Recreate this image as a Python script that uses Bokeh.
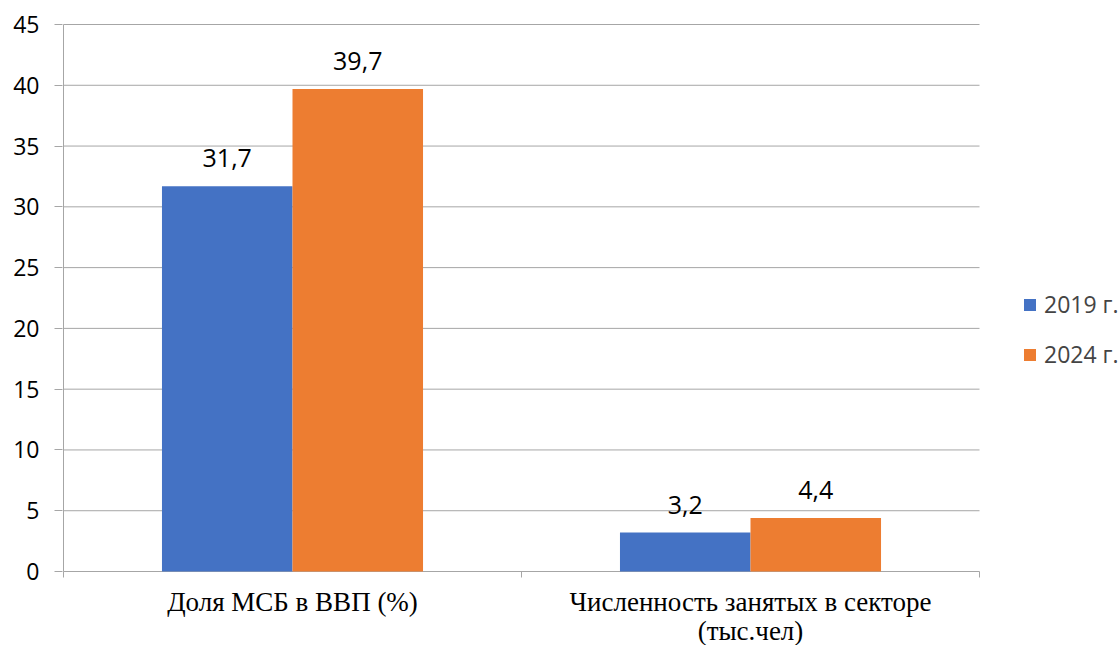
from bokeh.plotting import figure
from bokeh.models import (ColumnDataSource, Range1d, FixedTicker,
                          Legend, LegendItem, LabelSet)
from bokeh.core.properties import value
from bokeh.embed import file_html
from bokeh.resources import INLINE

categories = ["Доля МСБ в ВВП (%)", "Численность занятых в секторе\n(тыс.чел)"]
series_names = ["2019 г.", "2024 г."]
values_2019 = [31.7, 3.2]
values_2024 = [39.7, 4.4]
labels_2019 = ["31,7", "3,2"]
labels_2024 = ["39,7", "4,4"]
y_ticks = [0, 5, 10, 15, 20, 25, 30, 35, 40, 45]

BLUE = "#4472C4"
ORANGE = "#ED7D31"
GRID = "#A6A6A6"
TICK_FONT = "Open Sans"
CAT_FONT = "Liberation Serif"

W, H = 1120, 645
# layout of the value area (pixels)
AX_LEFT, AX_TOP, AX_RIGHT, AX_BOTTOM = 63, 24, 979, 571
y_min, y_max = y_ticks[0], y_ticks[-1]
n = len(categories)
px_y = (AX_BOTTOM - AX_TOP) / (y_max - y_min)
px_x = (AX_RIGHT - AX_LEFT) / n
# frame is one pixel larger than the value area, and extends right/down
x_start = -1 / px_x
x_end = (W - AX_LEFT) / px_x
y_end = y_max + 1 / px_y
y_start = y_min - (H - AX_BOTTOM) / px_y
tick_len = 6 / px_y

centers = [i + 0.5 for i in range(n)]
bounds = [float(i) for i in range(n + 1)]
bw = 0.285
x19 = [c - bw / 2 for c in centers]
x24 = [c + bw / 2 for c in centers]

src19 = ColumnDataSource(dict(x=x19, top=values_2019, lab=labels_2019))
src24 = ColumnDataSource(dict(x=x24, top=values_2024, lab=labels_2024))

p = figure(width=W, height=H, output_backend="svg", toolbar_location=None,
           x_range=Range1d(x_start, x_end), y_range=Range1d(y_start, y_end),
           min_border_left=AX_LEFT - 1, min_border_right=0, min_border_top=AX_TOP - 1,
           min_border_bottom=0, x_axis_type=None)
p.outline_line_color = None
p.background_fill_color = "white"
p.border_fill_color = "white"
p.xgrid.grid_line_color = None
p.ygrid.grid_line_color = None

# gridlines across the value area only
p.segment(x0=[0] * len(y_ticks), x1=[n] * len(y_ticks), y0=y_ticks, y1=y_ticks,
          line_color=GRID, line_width=1)
# value axis line
p.segment(x0=[0], x1=[0], y0=[y_min], y1=[y_max], line_color=GRID, line_width=1)
# category boundary ticks
p.segment(x0=bounds, x1=bounds, y0=[y_min] * len(bounds),
          y1=[y_min - tick_len] * len(bounds), line_color=GRID, line_width=1)

r19 = p.vbar(x="x", top="top", width=bw, source=src19, color=BLUE, line_color=None)
r24 = p.vbar(x="x", top="top", width=bw, source=src24, color=ORANGE, line_color=None)

for src in (src19, src24):
    p.add_layout(LabelSet(x="x", y="top", text="lab", source=src,
                          text_align="center", text_baseline="bottom", y_offset=19,
                          text_font=value(TICK_FONT), text_font_size=value("25px"),
                          text_color="#000000"))

# category labels, each line centred separately
LINE_STEP = 29
FIRST_OFFSET = -15
max_lines = max(len(c.split("\n")) for c in categories)
for li in range(max_lines):
    xs, ys, labs = [], [], []
    for c, cat in zip(centers, categories):
        parts = cat.split("\n")
        if li < len(parts):
            xs.append(c)
            ys.append(y_min)
            labs.append(parts[li])
    src = ColumnDataSource(dict(x=xs, y=ys, lab=labs))
    p.add_layout(LabelSet(x="x", y="y", text="lab", source=src,
                          text_align="center", text_baseline="top",
                          y_offset=FIRST_OFFSET - li * LINE_STEP,
                          text_font=value(CAT_FONT), text_font_size=value("27px"),
                          text_color="#000000"))

# y axis (ticks + labels only)
ya = p.yaxis[0]
ya.ticker = FixedTicker(ticks=y_ticks)
ya.axis_line_color = None
ya.major_tick_line_color = GRID
ya.major_tick_out = 8
ya.major_tick_in = 0
ya.minor_tick_line_color = None
ya.major_label_text_font = TICK_FONT
ya.major_label_text_font_size = "23px"
ya.major_label_text_color = "#000000"
ya.major_label_standoff = 15

legend = Legend(items=[LegendItem(label=series_names[0], renderers=[r19]),
                       LegendItem(label=series_names[1], renderers=[r24])],
                location=(1022 - (AX_LEFT - 1), H - 370))
legend.glyph_width = 15
legend.glyph_height = 15
legend.label_text_font = TICK_FONT
legend.label_text_font_size = "23px"
legend.label_standoff = 7
legend.label_height = 15
legend.spacing = 18
legend.padding = 0
legend.margin = 0
legend.border_line_color = None
legend.background_fill_alpha = 0
p.add_layout(legend, "center")

open("out.html", "w").write(file_html(p, INLINE))
